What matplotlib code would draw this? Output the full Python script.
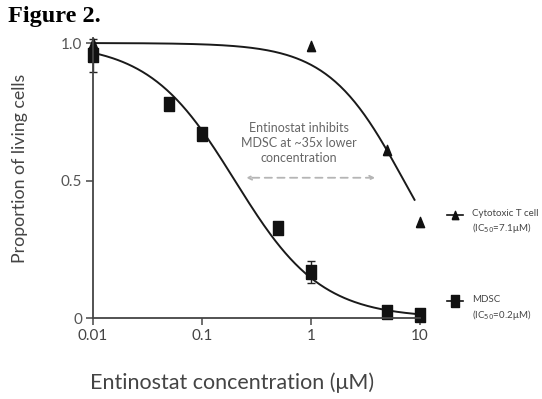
import numpy as np
import matplotlib
matplotlib.use("Agg")
import matplotlib.pyplot as plt
from matplotlib.lines import Line2D

plt.rcParams['font.family'] = ['Lato', 'DejaVu Sans']

# measured points
conc = [0.01, 0.05, 0.1, 0.5, 1, 5, 10]
mdsc = [0.955, 0.78, 0.67, 0.327, 0.167, 0.022, 0.01]
mdsc_err = [0.06, 0.0, 0.0, 0.0, 0.04, 0.0, 0.0]

t_conc = [0.01, 1, 5, 10]
tcell = [1.0, 0.99, 0.61, 0.35]

# dose-response fits (IC50 from the legend, hill slope)
mdsc_ic50, mdsc_hill = 0.2, 1.1
t_ic50, t_hill = 7.1, 1.25

xticks = [0.01, 0.1, 1, 10]
xticklabels = ["0.01", "0.1", "1", "10"]
yticks = [0, 0.5, 1.0]
yticklabels = ["0", "0.5", "1.0"]

def hill(x, ic50, h):
    return 1.0 / (1.0 + (x / ic50) ** h)

rect = [(-0.65, -1), (0.65, -1), (0.65, 1), (-0.65, 1), (-0.65, -1)]
tri = [(-0.8, -1), (0.8, -1), (0, 1), (-0.8, -1)]

fig = plt.figure(figsize=(5.42, 3.99), dpi=100)
ax = fig.add_axes([0.1716, 0.203, 0.6034, 0.703])

xs = np.logspace(-2, 1, 200)
ax.plot(xs, hill(xs, mdsc_ic50, mdsc_hill), color='#1a1a1a', lw=1.4)
xs_t = np.logspace(-2, np.log10(8.9), 200)
ax.plot(xs_t, hill(xs_t, t_ic50, t_hill), color='#1a1a1a', lw=1.4)

ax.errorbar(conc, mdsc, yerr=mdsc_err, fmt='none', ecolor='#222', elinewidth=1,
            capsize=3, capthick=1, clip_on=False)
ax.plot(conc, mdsc, ls='none', marker=rect, ms=10.3, color='#111', clip_on=False)
ax.plot(t_conc, tcell, ls='none', marker=tri, ms=7.4, color='#111', clip_on=False)

ax.set_xscale('log')
ax.set_xlim(0.01, 10)
ax.set_ylim(0, 1.02)
ax.set_xticks(xticks)
ax.set_xticklabels(xticklabels)
ax.set_yticks(yticks)
ax.set_yticklabels(yticklabels)
ax.minorticks_off()
ax.tick_params(colors='#555', labelsize=11, length=5, width=1.2, pad=3)
ax.tick_params(axis='x', labelcolor='#444')
ax.tick_params(axis='y', labelcolor='#555')
for s in ['top', 'right']:
    ax.spines[s].set_visible(False)
for s in ['left', 'bottom']:
    ax.spines[s].set_color('#444')
    ax.spines[s].set_linewidth(1.3)

# annotation
ax.text(0.77, 0.636, "Entinostat inhibits\nMDSC at ~35x lower\nconcentration",
        ha='center', va='center', fontsize=9, color='#666', linespacing=1.3)
ax.annotate("", xy=(0.24, 0.51), xytext=(4.1, 0.51),
            arrowprops=dict(arrowstyle='<->', color='#b5b5b5', lw=1.3,
                            linestyle=(0, (4, 3)), mutation_scale=7))

# legend drawn by hand (symbol lines up with the first text line)
def legend_entry(y_sym, y_txt, marker, ms, name, ic):
    fig.add_artist(Line2D([447 / 542, 463 / 542], [y_sym, y_sym], color='#111', lw=1.2,
                          transform=fig.transFigure))
    fig.add_artist(Line2D([455 / 542], [y_sym], marker=marker, ms=ms, color='#111',
                          transform=fig.transFigure))
    fig.text(472 / 542, y_txt, name, fontsize=7, color='#444', ha='left', va='center')
    fig.text(472 / 542, y_txt - 15 / 399, "(IC$_{50}$=" + ic + "\u03bcM)", fontsize=7,
             color='#444', ha='left', va='center')

legend_entry(1 - 215 / 399, 1 - 213 / 399, tri, 6, "Cytotoxic T cell", "7.1")
legend_entry(1 - 301 / 399, 1 - 300 / 399, rect, 8.5, "MDSC", "0.2")

fig.text(0.428, 0.04, "Entinostat concentration (\u03bcM)", ha='center', va='center',
         fontsize=15.5, color='#444')
fig.text(0.037, 0.579, "Proportion of living cells", rotation=90, ha='center', va='center',
         fontsize=12.8, color='#444')
fig.text(0.015, 0.985, "Figure 2.", ha='left', va='top', fontsize=17.5, fontweight='bold',
         family='Liberation Serif', color='black')

fig.savefig("out.png", dpi=100)
